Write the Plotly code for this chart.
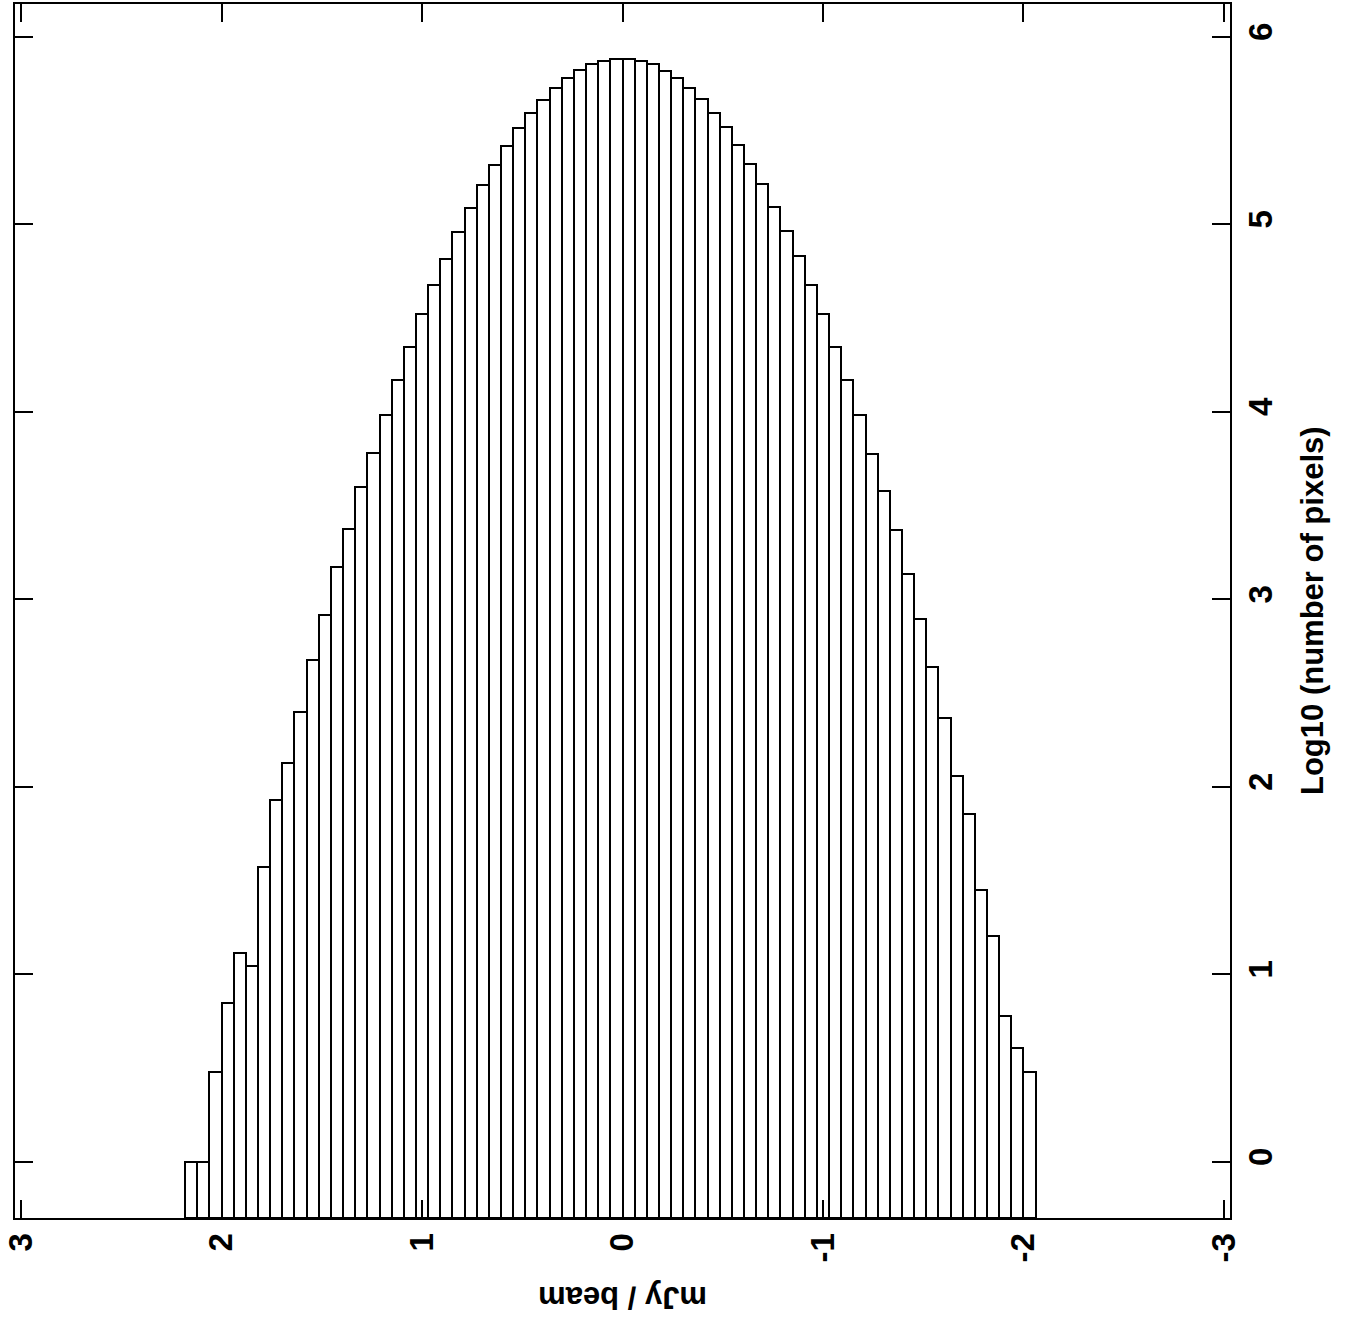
import numpy as np
import plotly.graph_objects as go

# ---- data ----
bin_width = 0.0606
n_bins = 70
first_edge = 36 * bin_width  # left-most (highest) bin edge, mJy/beam
bin_edges = first_edge - bin_width * np.arange(n_bins + 1)
bin_centers = (bin_edges[:-1] + bin_edges[1:]) / 2

log_counts = [
    0.000, 0.000, 0.480, 0.846, 1.115, 1.042, 1.570, 1.931, 2.126, 2.397,
    2.675, 2.916, 3.173, 3.376, 3.597, 3.780, 3.981, 4.169, 4.345, 4.519,
    4.674, 4.816, 4.960, 5.088, 5.211, 5.317, 5.419, 5.511, 5.591, 5.664,
    5.725, 5.780, 5.821, 5.853, 5.870, 5.881, 5.881, 5.872, 5.853, 5.819,
    5.781, 5.728, 5.667, 5.595, 5.517, 5.423, 5.323, 5.214, 5.093, 4.963,
    4.830, 4.678, 4.521, 4.345, 4.171, 3.984, 3.776, 3.576, 3.367, 3.134,
    2.894, 2.640, 2.365, 2.059, 1.853, 1.447, 1.205, 0.779, 0.605, 0.477,
]

x_ticks = [3, 2, 1, 0, -1, -2, -3]
y_ticks = [0, 1, 2, 3, 4, 5, 6]
x_title = "mJy / beam"
y_title = "Log10 (number of pixels)"

# ---- layout constants ----
X_RANGE = [3.03, -3.03]
Y_RANGE = [-0.3, 6.175]
FONT = "Liberation Sans, Arial, sans-serif"

fig = go.Figure()
fig.add_trace(go.Bar(
    x=bin_centers,
    y=[v - Y_RANGE[0] for v in log_counts],
    base=Y_RANGE[0],
    width=bin_width,
    marker=dict(color="white", line=dict(color="black", width=2)),
    showlegend=False,
    hoverinfo="skip",
))

axis_common = dict(
    showline=True, linecolor="black", linewidth=2, mirror="allticks",
    ticks="inside", ticklen=18, tickwidth=2, tickcolor="black",
    showgrid=False, zeroline=False, automargin=False,
    tickfont=dict(family=FONT, size=33, color="black", weight="bold"),
    tickangle=-90,
)

fig.update_xaxes(range=X_RANGE, tickvals=x_ticks,
                 ticktext=[f"<b>{t}</b>" for t in x_ticks], **axis_common)
fig.update_yaxes(range=Y_RANGE, tickvals=y_ticks,
                 ticktext=[f"<b>{t}</b>" for t in y_ticks], side="right", **axis_common)

fig.add_annotation(text=f"<b>{x_title}</b>", x=0.5, y=-0.065, xref="paper", yref="paper",
                   xanchor="center", yanchor="middle", textangle=180, showarrow=False,
                   font=dict(family=FONT, size=31, color="black", weight="bold"))
fig.add_annotation(text=f"<b>{y_title}</b>", x=1.0675, y=0.5, xref="paper", yref="paper",
                   xanchor="center", yanchor="middle", textangle=-90, showarrow=False,
                   font=dict(family=FONT, size=31, color="black", weight="bold"))

fig.update_layout(
    width=1345, height=1321,
    margin=dict(l=15, r=115, t=4, b=103),
    plot_bgcolor="white", paper_bgcolor="white",
    bargap=0,
)

fig.write_html("out.html")
